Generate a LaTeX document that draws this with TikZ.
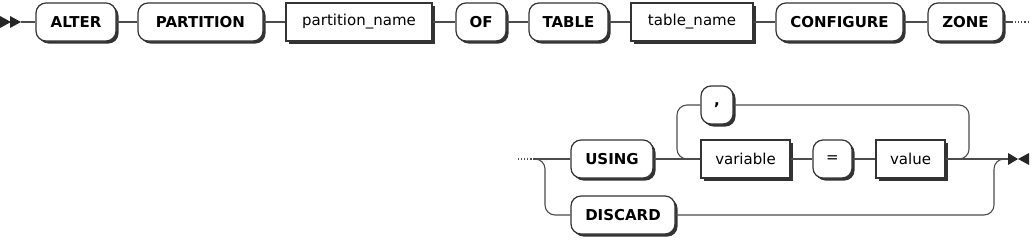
\documentclass[tikz,border=0pt]{standalone}
\usepackage{fontspec}
\setmainfont{DejaVu Sans}
\usetikzlibrary{shadows}
\begin{document}
\begin{tikzpicture}[x = 1pt, y = -1pt,
  every node/.style = {font = \fontsize{15}{18}\selectfont},
  kw/.style = {draw = black!80, line width = 1.2pt, fill = white, rounded corners = 10, minimum height = 38, inner sep = 0, font = \fontsize{15}{18}\selectfont\bfseries, drop shadow = {shadow xshift = 2.5pt, shadow yshift = -2.5pt, fill = black!80, opacity = 1}},
  nt/.style = {draw = black!80, line width = 1.2pt, fill = white, minimum height = 38, inner sep = 0, drop shadow = {shadow xshift = 2.5pt, shadow yshift = -2.5pt, fill = black!80, opacity = 1}},
  ln/.style = {draw = black!70, line width = 1.1pt}]
\useasboundingbox (0,0) rectangle (1032,239);
% first line
\fill[black!85] (0,16) -- (11,22) -- (0,28) -- cycle;
\fill[black!85] (10,16) -- (21,22) -- (10,28) -- cycle;
\coordinate (st) at (21,22);
\node[kw, minimum width = 80] at (76,22) (a1) {ALTER};
\node[kw, minimum width = 125] at (200.5,22) (a2) {PARTITION};
\node[nt, minimum width = 146] at (359,22) (a3) {partition\_name};
\node[kw, minimum width = 50] at (481,22) (a4) {OF};
\node[kw, minimum width = 79] at (568.5,22) (a5) {TABLE};
\node[nt, minimum width = 122] at (692,22) (a6) {table\_name};
\node[kw, minimum width = 127] at (839.5,22) (a7) {CONFIGURE};
\node[kw, minimum width = 75] at (965.5,22) (a8) {ZONE};
\coordinate (c1) at (1012,22);
\coordinate (c2) at (1030,22);
\draw[ln] (st) -- (a1);
\draw[ln] (a1) -- (a2);
\draw[ln] (a2) -- (a3);
\draw[ln] (a3) -- (a4);
\draw[ln] (a4) -- (a5);
\draw[ln] (a5) -- (a6);
\draw[ln] (a6) -- (a7);
\draw[ln] (a7) -- (a8);
\draw[ln] (a8) -- (c1);
\draw[ln, dotted] (c1) -- (c2);
% second line
\coordinate (d1) at (518,159);
\coordinate (d2) at (533,159);
\node[kw, minimum width = 82] at (612,159) (b1) {USING};
\node[kw, minimum width = 104] at (623,215) (b2) {DISCARD};
\node[kw, minimum width = 32] at (717,105) (b3) {,};
\node[nt, minimum width = 89] at (745.5,159) (b4) {variable};
\node[kw, minimum width = 39, font = \fontsize{15}{18}\selectfont] at (832.5,159) (b5) {=};
\node[nt, minimum width = 69] at (910.5,159) (b6) {value};
\coordinate (en) at (1008,159);
\draw[ln, dotted] (d1) -- (d2);
\draw[ln] (d2) -- (b1);
\draw[ln, rounded corners = 10] (d2) -| (545,215) -- (b2);
\draw[ln] (b1) -- (b4);
\draw[ln, rounded corners = 10] (b3) -| (677,159) -- (b4);
\draw[ln, rounded corners = 10] (b3) -| (969,159) -- (b6);
\draw[ln] (b4) -- (b5);
\draw[ln] (b5) -- (b6);
\draw[ln] (b6) -- (en);
\draw[ln, rounded corners = 10] (b2) -| (994,159) -- (en);
\fill[black!85] (en) ++(0,-6) -- ++(10,6) -- ++(-10,6) -- cycle;
\fill[black!85] (1029,153) -- (1018,159) -- (1029,165) -- cycle;
\end{tikzpicture}
\end{document}
